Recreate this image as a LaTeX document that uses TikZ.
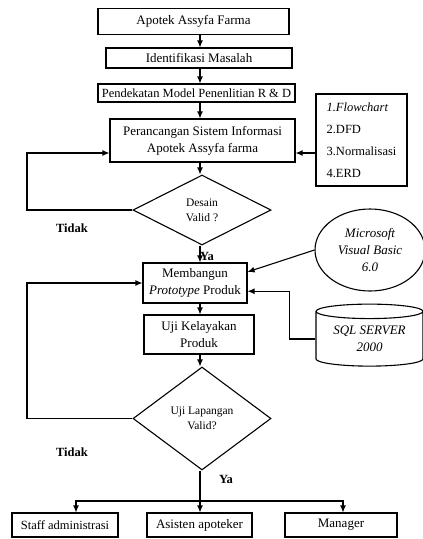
\documentclass[tikz,border=0pt]{standalone}
\usepackage{fontspec}
\setmainfont{Liberation Serif}
\usetikzlibrary{shapes.geometric,calc,arrows.meta}

\begin{document}
\begin{tikzpicture}[x=1pt,y=-1pt,
    box/.style={draw,line width=1.1pt,inner sep=0pt,align=center,font=\fontsize{13}{17}\selectfont},
    decision/.style={draw,line width=1.1pt,diamond,inner sep=0pt,align=center,font=\fontsize{11.5}{15}\selectfont},
    tool/.style={draw,line width=1.1pt,inner sep=0pt,align=center,font=\fontsize{13}{17}\selectfont\itshape},
    answer/.style={font=\fontsize{12.5}{15}\selectfont\bfseries},
    arr/.style={line width=1.1pt,-{Latex[length=7pt,width=6pt]}},
    link/.style={line width=1.1pt}]
    \useasboundingbox (0,0) rectangle (423,539);

    % main column
    \node[box,minimum width=191,minimum height=26] (apotek) at (193.5,21.5) {Apotek Assyfa Farma};
    \node[box,minimum width=186,minimum height=20] (identifikasi) at (199,58) {Identifikasi Masalah};
    \node[box,minimum width=197,minimum height=18,font=\fontsize{12.5}{17}\selectfont] (pendekatan) at (196.5,93) {Pendekatan Model Penenlitian R \& D};
    \node[box,minimum width=185,minimum height=43] (perancangan) at (202.5,140.5) {Perancangan Sistem Informasi\\Apotek Assyfa farma};
    \node[decision,minimum width=138,minimum height=70] (desain) at (202,210) {Desain\\Valid ?};
    \node[box,minimum width=104,minimum height=40] (membangun) at (195,283) {Membangun\\\textit{Prototype} Produk};
    \node[box,minimum width=110,minimum height=39] (uji) at (199,334.5) {Uji Kelayakan\\Produk};
    \node[decision,minimum width=138,minimum height=103] (lapangan) at (202,418.5) {Uji Lapangan\\Valid?};

    % users
    \node[box,minimum width=106,minimum height=24,font=\fontsize{12.5}{17}\selectfont] (staff) at (65,525) {Staff administrasi};
    \node[box,minimum width=105,minimum height=24] (asisten) at (199.5,525) {Asisten apoteker};
    \node[box,minimum width=112,minimum height=24] (manager) at (341,525) {Manager};

    % side inputs
    \node[box,minimum width=91,minimum height=92,align=left,font=\fontsize{12.5}{22}\selectfont] (metode) at (361.5,140)
        {\textit{1.Flowchart}\\2.DFD\\3.Normalisasi\\4.ERD};
    \node[tool,ellipse,minimum width=110,minimum height=82] (vb) at (370,250) {Microsoft\\Visual Basic\\6.0};
    \node[tool,cylinder,shape border rotate=90,aspect=0.2,minimum width=107,minimum height=62] (sql) at (369.5,339) {SQL SERVER\\2000};

    \node[answer] (tidakA) at (72,228) {Tidak};
    \node[answer] (tidakB) at (72,452) {Tidak};

    \coordinate (loopA) at (27,153);
    \coordinate (loopB) at (27,283);
    \coordinate (split) at (200,501);

    % arrows
    \draw[arr] (apotek.south -| split) -- (identifikasi.north -| split);
    \draw[arr] (identifikasi.south -| split) -- (pendekatan.north -| split);
    \draw[arr] (pendekatan.south -| split) -- (perancangan.north -| split);
    \draw[arr] (perancangan.south -| split) -- (desain.north -| split);
    \draw[arr] (desain.south -| split) -- (membangun.north -| split);
    \draw[arr] (membangun.south -| split) -- (uji.north -| split);
    \draw[arr] (uji.south -| split) -- (lapangan.north -| split);
    \node[answer] (yaA) at (207,256) {Ya};

    \draw[arr] (desain.west) -| (loopA) -- (loopA -| perancangan.west);
    \draw[arr] (metode.west |- loopA) -- (perancangan.east |- loopA);
    \draw[arr] (lapangan.west) -| (loopB) -- (membangun.west);
    \draw[arr] (vb.west) -- ($(membangun.north east)!0.23!(membangun.south east)$);
    \draw[arr] (sql.west) -- ++(-26,0) |- ($(membangun.north east)!0.7!(membangun.south east)$);

    \draw[link] (lapangan.south -| split) -- (split);
    \node[answer] (yaB) at (226,479) {Ya};
    \draw[arr] (split) -| ([xshift=11pt]staff.north);
    \draw[arr] (split) -| ([xshift=2pt]manager.north);
    \draw[arr] (split) -- (asisten.north -| split);
\end{tikzpicture}
\end{document}
